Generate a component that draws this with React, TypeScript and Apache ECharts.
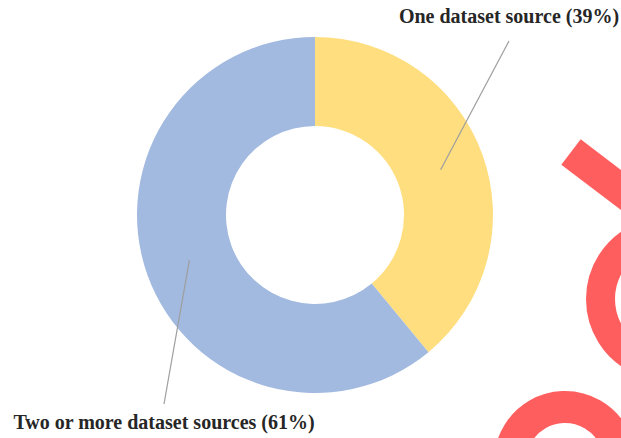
import { useEffect, useRef } from "react";
import * as echarts from "echarts";

// Share of studies by number of dataset sources
const categories = ["One dataset source", "Two or more dataset sources"];
const shares = [39, 61];
const sliceColors = ["#FFDE80", "#A2B9E0"];

// Donut geometry (px)
const CX = 315;
const CY = 215;
const R_IN = 89;
const R_OUT = 178;

// Where each leader line ends; the label text is centred on it
const labelEnds: [number, number][] = [
  [509, 41],
  [164, 404],
];
const labelOffsets = [-25, 18];

const ACCENT = "#FF5E5E";

export default function App() {
  const ref = useRef<HTMLDivElement>(null);

  useEffect(() => {
    if (!ref.current) return;
    const chart = echarts.init(ref.current, undefined, { renderer: "svg" });

    const total = shares.reduce((a, b) => a + b, 0);
    const rMid = (R_IN + R_OUT) / 2;
    let cum = 0;
    const labelGraphics: any[] = [];
    shares.forEach((v, i) => {
      const midDeg = 90 - ((cum + v / 2) / total) * 360;
      cum += v;
      const rad = (midDeg * Math.PI) / 180;
      const sx = CX + rMid * Math.cos(rad);
      const sy = CY - rMid * Math.sin(rad);
      const [ex, ey] = labelEnds[i];
      labelGraphics.push({
        type: "line",
        silent: true,
        z: 10,
        shape: { x1: sx, y1: sy, x2: ex, y2: ey },
        style: { stroke: "#9E9E9E", lineWidth: 1.2 },
      });
      labelGraphics.push({
        type: "text",
        silent: true,
        z: 10,
        x: ex,
        y: ey + labelOffsets[i],
        style: {
          text: `${categories[i]} (${Math.round((v / total) * 100)}%)`,
          fill: "#262626",
          font: 'bold 20px "Liberation Serif", "Times New Roman", serif',
          textAlign: "center",
          textVerticalAlign: "middle",
        },
      });
    });

    // Red brush strokes along the right edge
    const accents: any[] = [
      {
        type: "line",
        silent: true,
        z: 5,
        shape: { x1: 571, y1: 152, x2: 700, y2: 250 },
        style: { stroke: ACCENT, lineWidth: 32, lineCap: "butt" },
      },
      {
        type: "circle",
        silent: true,
        z: 5,
        shape: { cx: 668, cy: 299, r: 67.5 },
        style: { fill: "none", stroke: ACCENT, lineWidth: 29 },
      },
      {
        type: "circle",
        silent: true,
        z: 5,
        shape: { cx: 565, cy: 462, r: 55 },
        style: { fill: "none", stroke: ACCENT, lineWidth: 32 },
      },
    ];

    chart.setOption({
      animation: false,
      backgroundColor: "#ffffff",
      series: [
        {
          type: "pie",
          center: [CX, CY],
          radius: [R_IN, R_OUT],
          startAngle: 90,
          clockwise: true,
          silent: true,
          label: { show: false },
          labelLine: { show: false },
          emphasis: { disabled: true },
          data: categories.map((name, i) => ({
            name,
            value: shares[i],
            itemStyle: { color: sliceColors[i] },
          })),
        },
      ],
      graphic: [...accents, ...labelGraphics],
    });

    return () => chart.dispose();
  }, []);

  return (
    <div
      ref={ref}
      style={{ position: "fixed", left: 0, top: 0, width: 621, height: 438, background: "#fff" }}
    />
  );
}
